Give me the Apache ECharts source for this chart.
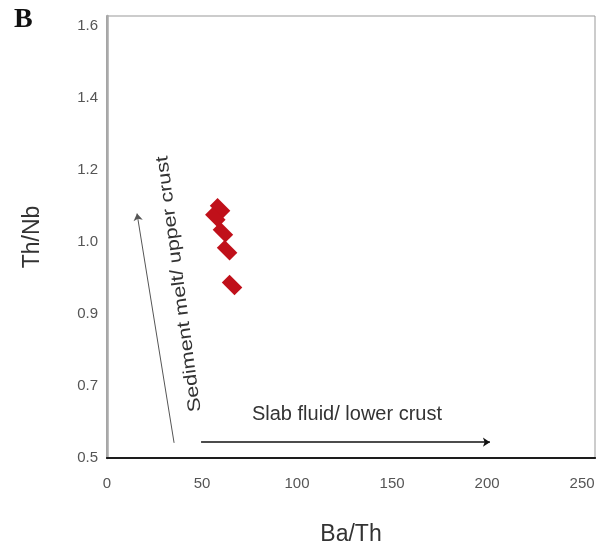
<!DOCTYPE html>
<html>
<head>
<meta charset="utf-8">
<script src="https://cdn.jsdelivr.net/npm/echarts@6/dist/echarts.min.js"></script>
<style>
  html, body { margin: 0; padding: 0; background: #fff; }
  #chart { width: 601px; height: 545px; }
</style>
</head>
<body>
<div id="chart"></div>
<script>
// tick labels on the Th/Nb axis (printed labels are evenly spaced, not linear)
var yTickLabels = [0.5, 0.7, 0.9, 1.0, 1.2, 1.4, 1.6];
var xTicks = [0, 50, 100, 150, 200, 250];

// samples: Ba/Th and Th/Nb
var baTh = [59.5, 57, 61, 63.2, 65.8];
var thNb = [1.093, 1.068, 1.026, 0.988, 0.94];

// position of a Th/Nb value between the printed tick labels
function toIdx(v) {
    for (var i = 0; i < yTickLabels.length - 1; i++) {
        if (v <= yTickLabels[i + 1]) {
            return i + (v - yTickLabels[i]) / (yTickLabels[i + 1] - yTickLabels[i]);
        }
    }
    return yTickLabels.length - 1;
}

var points = baTh.map(function (x, i) { return [x, toIdx(thNb[i])]; });

var labelColor = '#555';
var font = 'Liberation Sans, Arial, sans-serif';

var myChart = echarts.init(document.getElementById('chart'));
myChart.setOption({
    animation: false,
    grid: {
        left: 107, right: 6, top: 16, bottom: 87,
        outerBoundsMode: 'none',
        show: true, borderColor: '#999', borderWidth: 1
    },
    xAxis: [
        {
            type: 'value', min: 0, max: 256.8, interval: 50,
            name: 'Ba/Th', nameLocation: 'middle', nameGap: 65,
            nameTextStyle: { fontSize: 23, color: '#333', fontFamily: font },
            axisLine: { show: true, lineStyle: { color: '#111', width: 2 } },
            axisTick: { show: false },
            splitLine: { show: false },
            axisLabel: {
                showMaxLabel: false, margin: 18, fontSize: 15, color: labelColor, fontFamily: font,
                formatter: function (v) { return xTicks.indexOf(v) >= 0 ? String(v) : ''; }
            }
        },
        {
            type: 'value', position: 'top', min: 0, max: 256.8,
            axisLine: { show: true, lineStyle: { color: '#222', width: 1.5 } },
            axisTick: { show: false }, axisLabel: { show: false }, splitLine: { show: false }
        }
    ],
    yAxis: [
        {
            type: 'value', min: 0, max: 6.13, interval: 1,
            name: 'Th/Nb', nameLocation: 'middle', nameGap: 63, nameRotate: 90,
            nameTextStyle: { fontSize: 23, color: '#333', fontFamily: font },
            axisLine: { show: true, lineStyle: { color: '#888', width: 1.5 } },
            axisTick: { show: false },
            splitLine: { show: false },
            axisLabel: {
                showMaxLabel: false, margin: 9, fontSize: 15, color: labelColor, fontFamily: font,
                formatter: function (v) {
                    var s = yTickLabels[Math.round(v)];
                    return s === undefined ? '' : s.toFixed(1);
                }
            }
        },
        {
            type: 'value', position: 'right', min: 0, max: 6.13,
            axisLine: { show: true, lineStyle: { color: '#aaa', width: 2.5 } },
            axisTick: { show: false }, axisLabel: { show: false }, splitLine: { show: false }
        }
    ],
    series: [
        {
            type: 'scatter',
            data: points,
            symbol: 'rect',
            symbolSize: [18, 11],
            symbolRotate: -45,
            itemStyle: { color: '#c0101a', opacity: 1 },
            z: 5
        },
        {
            // trend arrows
            type: 'scatter',
            data: [],
            markLine: {
                silent: true,
                symbol: ['none', 'arrow'],
                symbolSize: 7,
                label: { show: false },
                data: [
                    [{ coord: [35.3, 0.21], lineStyle: { color: '#555', width: 1, type: 'solid' } },
                     { coord: [15.8, 3.39] }],
                    [{ coord: [49.5, 0.22], lineStyle: { color: '#111', width: 1.5, type: 'solid' } },
                     { coord: [201.5, 0.22] }]
                ]
            }
        }
    ],
    graphic: [
        {
            type: 'text', left: 14, top: 6,
            style: { text: 'B', font: 'bold 28px "Liberation Serif", serif', fill: '#111' }
        },
        {
            type: 'text', x: 347, y: 414,
            style: {
                text: 'Slab fluid/ lower crust', fontSize: 20, fontFamily: font, fill: '#333',
                textAlign: 'center', textVerticalAlign: 'middle'
            }
        },
        {
            type: 'text', x: 179, y: 284, rotation: Math.PI / 2 + 0.13, scaleX: 1.2,
            style: {
                text: 'Sediment melt/ upper crust', fontSize: 18, fontFamily: font, fill: '#333',
                textAlign: 'center', textVerticalAlign: 'middle'
            }
        }
    ]
});
</script>
</body>
</html>
